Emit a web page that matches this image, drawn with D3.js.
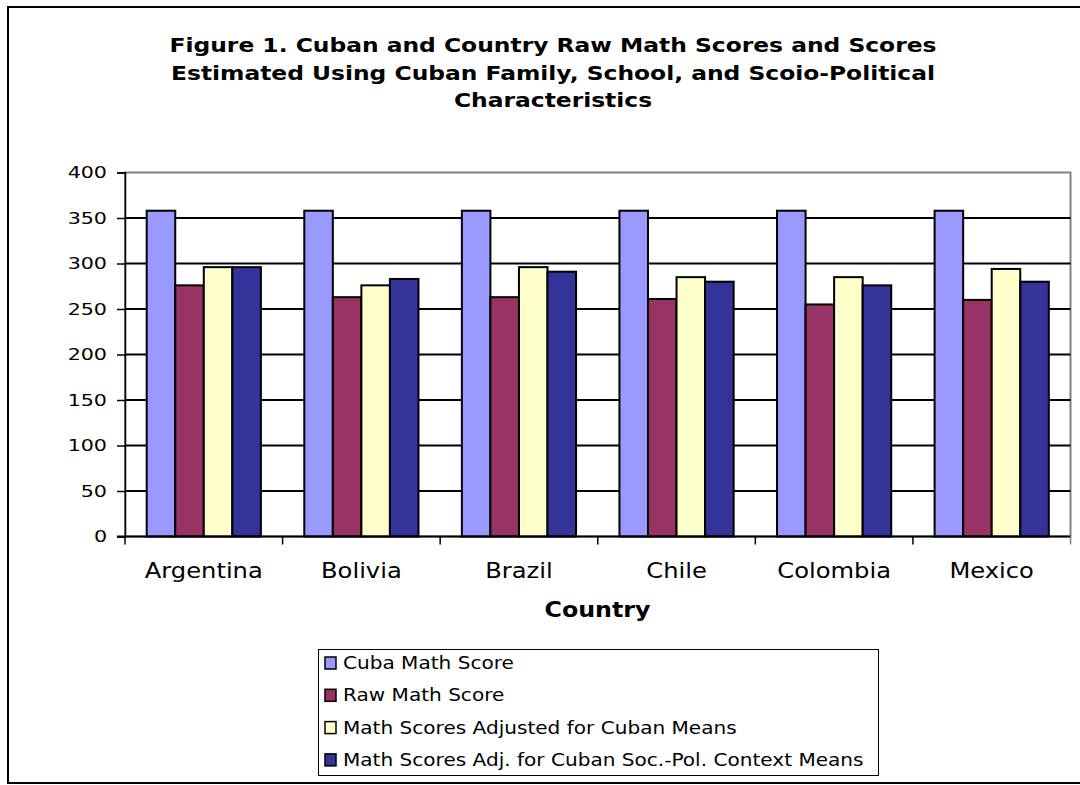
<!DOCTYPE html>
<html>
<head>
<meta charset="utf-8">
<script src="https://cdn.jsdelivr.net/npm/d3@7"></script>
<style>
  html, body { margin: 0; padding: 0; background: #fff; }
  svg { display: block; }
</style>
</head>
<body>
<svg id="chart" width="1080" height="785"></svg>
<script>
// Countries along the x axis
const countries = ["Argentina", "Bolivia", "Brazil", "Chile", "Colombia", "Mexico"];

// Series names (legend order)
const seriesNames = [
  "Cuba Math Score",
  "Raw Math Score",
  "Math Scores Adjusted for Cuban Means",
  "Math Scores Adj. for Cuban Soc.-Pol. Context Means"
];

// Values per series, one per country
const cubaScore   = [358, 358, 358, 358, 358, 358];
const rawScore    = [276, 263, 263, 261, 255, 260];
const adjCuban    = [296, 276, 296, 285, 285, 294];
const adjSocPol   = [296, 283, 291, 280, 276, 280];

const yTicks = [0, 50, 100, 150, 200, 250, 300, 350, 400];
const titleLines = [
  "Figure 1. Cuban and Country Raw Math Scores and Scores",
  "Estimated Using Cuban Family, School, and Scoio-Political",
  "Characteristics"
];
const xTitle = "Country";

const seriesValues = [cubaScore, rawScore, adjCuban, adjSocPol];
const colors = ["#9999FF", "#993366", "#FFFFCC", "#333399"];

const svg = d3.select("#chart");
const font = "Verdana, 'DejaVu Sans', sans-serif";

// Widen text horizontally (the chart uses a broad, stretched face)
function widen(sel, k) {
  sel.each(function () {
    const w = this.getComputedTextLength();
    d3.select(this).attr("textLength", w * k).attr("lengthAdjust", "spacingAndGlyphs");
  });
}

// Outer chart frame
svg.append("rect")
  .attr("x", 8).attr("y", 7).attr("width", 1090).attr("height", 776)
  .attr("fill", "#fff").attr("stroke", "#000").attr("stroke-width", 2);

// Title
const title = svg.append("g").selectAll("text").data(titleLines).join("text")
  .attr("x", 553).attr("y", (d, i) => 52 + i * 27.5)
  .attr("text-anchor", "middle")
  .attr("font-family", font).attr("font-weight", "bold").attr("font-size", 19)
  .attr("fill", "#000")
  .text(d => d);
widen(title, 1.23);

const plot = { left: 125, right: 1070.5, top: 172.5, bottom: 536.5 };

const y = d3.scaleLinear().domain([0, 400]).range([plot.bottom, plot.top]);
const x0 = d3.scaleBand().domain(countries).range([plot.left, plot.right]).padding(0);
const x1 = d3.scaleBand().domain(d3.range(seriesNames.length))
  .range([0, x0.bandwidth()]).paddingInner(0).paddingOuter(0.76);

// Plot area border (grey)
svg.append("rect")
  .attr("x", plot.left).attr("y", plot.top)
  .attr("width", plot.right - plot.left).attr("height", plot.bottom - plot.top)
  .attr("fill", "#fff").attr("stroke", "#808080").attr("stroke-width", 2);

// Horizontal gridlines
svg.append("g").selectAll("line").data(yTicks.filter(t => t > 0 && t < 400)).join("line")
  .attr("x1", plot.left).attr("x2", plot.right)
  .attr("y1", d => y(d)).attr("y2", d => y(d))
  .attr("stroke", "#000").attr("stroke-width", 2);

// Bars
const groups = svg.append("g").selectAll("g").data(countries).join("g")
  .attr("transform", c => `translate(${x0(c)},0)`);
groups.selectAll("rect")
  .data((c, ci) => seriesValues.map((vals, si) => ({ si, v: vals[ci] })))
  .join("rect")
  .attr("x", d => x1(d.si))
  .attr("y", d => y(d.v))
  .attr("width", x1.bandwidth())
  .attr("height", d => y(0) - y(d.v))
  .attr("fill", d => colors[d.si])
  .attr("stroke", "#000").attr("stroke-width", 2);

// Y axis
const yAxis = svg.append("g")
  .attr("transform", `translate(${plot.left},0)`)
  .call(d3.axisLeft(y).tickValues(yTicks).tickSize(8).tickPadding(10));
yAxis.select(".domain").attr("stroke", "#000").attr("stroke-width", 1.5);
yAxis.selectAll(".tick line").attr("stroke", "#000").attr("stroke-width", 1.5);
const yLabels = yAxis.selectAll(".tick text")
  .attr("font-family", font).attr("font-size", 16.5).attr("fill", "#000");
widen(yLabels, 1.25);

// X axis baseline and category separators
const xAxisG = svg.append("g");
xAxisG.append("line")
  .attr("x1", plot.left - 8).attr("x2", plot.right)
  .attr("y1", y(0)).attr("y2", y(0))
  .attr("stroke", "#000").attr("stroke-width", 2);
const boundaries = countries.map(c => x0(c)).concat([plot.right]);
xAxisG.selectAll("line.sep").data(boundaries).join("line")
  .attr("class", "sep")
  .attr("x1", d => d).attr("x2", d => d)
  .attr("y1", y(0)).attr("y2", y(0) + 8)
  .attr("stroke", d => d === plot.right ? "#808080" : "#000").attr("stroke-width", 1.5);
const catLabels = xAxisG.selectAll("text").data(countries).join("text")
  .attr("x", c => x0(c) + x0.bandwidth() / 2)
  .attr("y", 578)
  .attr("text-anchor", "middle")
  .attr("font-family", font).attr("font-size", 20.5).attr("fill", "#000")
  .text(c => c);
widen(catLabels, 1.18);

// X axis title
const xt = svg.append("text")
  .attr("x", 597.5).attr("y", 617)
  .attr("text-anchor", "middle")
  .attr("font-family", font).attr("font-weight", "bold").attr("font-size", 21)
  .attr("fill", "#000")
  .text(xTitle);
widen(xt, 1.13);

// Legend
const legend = svg.append("g");
legend.append("rect")
  .attr("x", 318.5).attr("y", 649.5).attr("width", 560).attr("height", 126)
  .attr("fill", "#fff").attr("stroke", "#000").attr("stroke-width", 1);
const items = legend.selectAll("g").data(seriesNames).join("g")
  .attr("transform", (d, i) => `translate(0,${663 + i * 32.3})`);
items.append("rect")
  .attr("x", 325).attr("y", -6).attr("width", 11).attr("height", 12)
  .attr("fill", (d, i) => colors[i]).attr("stroke", "#000").attr("stroke-width", 1.5);
const legText = items.append("text")
  .attr("x", 343).attr("y", 6)
  .attr("font-family", font).attr("font-size", 17).attr("fill", "#000")
  .text(d => d);
widen(legText, 1.18);
</script>
</body>
</html>
